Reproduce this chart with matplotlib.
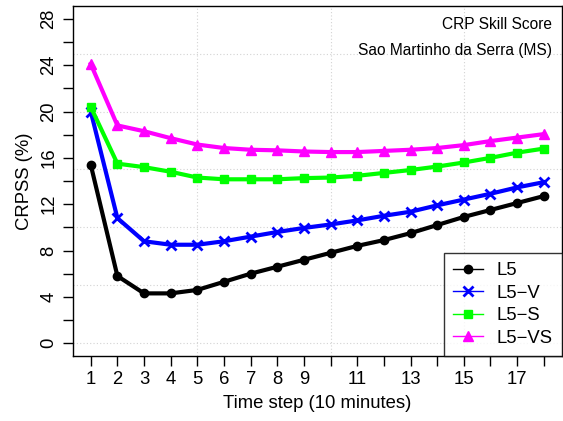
import matplotlib
matplotlib.use("Agg")
import matplotlib.pyplot as plt
import numpy as np

plt.rcParams['font.family'] = ['Liberation Sans', 'DejaVu Sans']

steps = np.arange(1, 19)
l5 = [15.4, 5.8, 4.3, 4.3, 4.6, 5.3, 6.0, 6.6, 7.2, 7.8, 8.4, 8.9, 9.5, 10.2, 10.9, 11.5, 12.1, 12.7]
l5_v = [20.0, 10.8, 8.8, 8.5, 8.5, 8.8, 9.2, 9.6, 9.95, 10.25, 10.6, 11.0, 11.35, 11.9, 12.4, 12.9, 13.45, 13.9]
l5_s = [20.4, 15.5, 15.2, 14.8, 14.3, 14.15, 14.15, 14.15, 14.25, 14.3, 14.45, 14.7, 14.95, 15.25, 15.6, 16.0, 16.45, 16.8]
l5_vs = [24.1, 18.8, 18.3, 17.7, 17.15, 16.85, 16.7, 16.65, 16.55, 16.5, 16.5, 16.6, 16.7, 16.85, 17.1, 17.45, 17.75, 18.05]

series = [
    ("L5", l5, "black", "o", 6),
    ("L5\u2212V", l5_v, "#0000FF", "x", 7),
    ("L5\u2212S", l5_s, "#00FF00", "s", 6),
    ("L5\u2212VS", l5_vs, "#FF00FF", "^", 7),
]

fig = plt.figure(figsize=(5.63, 4.21), dpi=100)
ax = fig.add_axes([0.129, 0.154, 0.869, 0.832])

# dotted grid like R's grid()
for g in [0, 5, 10, 15, 20, 25]:
    ax.axhline(g, color="lightgray", ls=(0, (1, 2)), lw=0.8, zorder=0)
for g in [5, 10, 15]:
    ax.axvline(g, color="lightgray", ls=(0, (1, 2)), lw=0.8, zorder=0)

for name, vals, col, mk, ms in series:
    ax.plot(steps, vals, color=col, lw=3, marker=mk, markersize=ms,
            markeredgewidth=2 if mk == "x" else 1, label=name)

ax.set_xlim(0.32, 18.68)
ax.set_ylim(-1.12, 29.12)

ax.set_yticks(np.arange(0, 29, 2))
ax.set_yticklabels([str(v) if v % 4 == 0 else "" for v in range(0, 29, 2)],
                   rotation=90, va="center")
ax.set_xticks(steps)
ax.set_xticklabels([str(s) if (s <= 9 or s % 2 == 1) else "" for s in steps])
ax.tick_params(axis="both", length=7, width=1, labelsize=13.3, pad=4)

ax.set_xlabel("Time step (10 minutes)", fontsize=13.3, labelpad=5)
ax.set_ylabel("CRPSS (%)", fontsize=13.3, labelpad=5)

for s in ax.spines.values():
    s.set_linewidth(1)

ax.text(0.98, 0.946, "CRP Skill Score", transform=ax.transAxes,
        ha="right", va="center", fontsize=11.2)
ax.text(0.98, 0.874, "Sao Martinho da Serra (MS)", transform=ax.transAxes,
        ha="right", va="center", fontsize=11.2)

leg = ax.legend(loc="lower right", fontsize=13.3, frameon=True, fancybox=False,
                borderaxespad=0, handlelength=1.6, labelspacing=0.3,
                handletextpad=0.75, borderpad=0.5)
leg.get_frame().set_edgecolor("black")
leg.get_frame().set_linewidth(1)
for line in leg.get_lines():
    line.set_linewidth(1)

fig.savefig("out.png", dpi=100)
